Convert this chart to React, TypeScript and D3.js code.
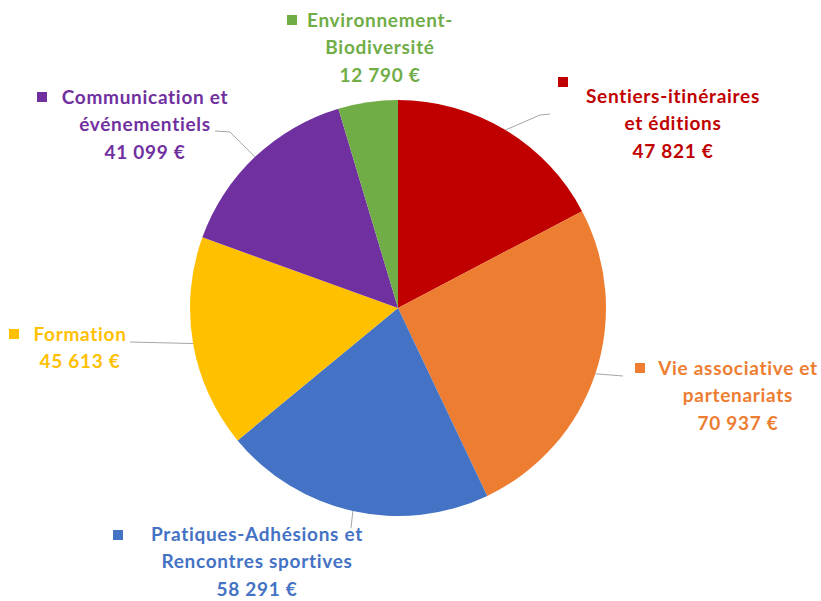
import { useEffect, useRef } from "react";
import * as d3 from "d3";

// budget lines, clockwise from 12 o'clock
const categories = [
  "Sentiers-itinéraires et éditions",
  "Vie associative et partenariats",
  "Pratiques-Adhésions et Rencontres sportives",
  "Formation",
  "Communication et événementiels",
  "Environnement-Biodiversité",
];
const amounts = [47821, 70937, 58291, 45613, 41099, 12790];
const colors = ["#C00000", "#ED7D31", "#4472C4", "#FFC000", "#7030A0", "#70AD47"];

// how each label is broken into lines (last line is the amount)
const labelLines = [
  ["Sentiers-itinéraires", "et éditions"],
  ["Vie associative et", "partenariats"],
  ["Pratiques-Adhésions et", "Rencontres sportives"],
  ["Formation"],
  ["Communication et", "événementiels"],
  ["Environnement-", "Biodiversité"],
];

const W = 821;
const H = 601;

// label placement: centre x of block, y of first line, marker pos, leader elbow pts
interface LabelLayout {
  cx: number;
  y: number;
  marker: [number, number];
  leader: [number, number][]; // points after the slice edge
}
const layouts: LabelLayout[] = [
  { cx: 673, y: 96, marker: [563, 82], leader: [[540, 115], [550, 114]] },
  { cx: 738, y: 368, marker: [640, 368], leader: [[623, 376]] },
  { cx: 257, y: 534, marker: [118, 535], leader: [[351, 528]] },
  { cx: 80, y: 334, marker: [14, 334], leader: [[130, 342]] },
  { cx: 145, y: 97, marker: [42, 97], leader: [[230, 132], [215, 131]] },
  { cx: 380, y: 20, marker: [292, 20], leader: [] },
];

const fmt = (v: number) => d3.format(",")(v).replace(/,/g, " ") + " €";

export default function App() {
  const svgRef = useRef<SVGSVGElement>(null);

  useEffect(() => {
    if (!svgRef.current) return;
    const svg = d3.select(svgRef.current);
    svg.selectAll("*").remove();

    const cx = 398;
    const cy = 308;
    const radius = 208;

    const data = categories.map((c, i) => ({ name: c, value: amounts[i], i }));
    const pie = d3.pie<typeof data[number]>().value(d => d.value).sort(null);
    const arcs = pie(data);
    const arc = d3.arc<d3.PieArcDatum<typeof data[number]>>().innerRadius(0).outerRadius(radius);

    const g = svg.append("g").attr("transform", `translate(${cx},${cy})`);

    g.selectAll("path.slice")
      .data(arcs)
      .join("path")
      .attr("class", "slice")
      .attr("d", arc)
      .attr("fill", d => colors[d.data.i]);

    // leader lines from slice edge (mid angle) to label
    const line = d3.line();
    for (const a of arcs) {
      const lay = layouts[a.data.i];
      if (!lay.leader.length) continue;
      const mid = (a.startAngle + a.endAngle) / 2;
      const edge: [number, number] = [cx + radius * Math.sin(mid), cy - radius * Math.cos(mid)];
      svg.append("path")
        .attr("d", line([edge, ...lay.leader]))
        .attr("fill", "none")
        .attr("stroke", "#A6A6A6")
        .attr("stroke-width", 1);
    }

    // labels
    const lineH = 27.5;
    for (let i = 0; i < categories.length; i++) {
      const lay = layouts[i];
      const color = colors[i];
      const lines = [...labelLines[i], fmt(amounts[i])];
      const t = svg.append("text")
        .attr("font-family", "Lato, 'Open Sans', sans-serif")
        .attr("font-weight", 700)
        .attr("font-size", 19)
        .attr("letter-spacing", 0.7)
        .attr("fill", color)
        .attr("text-anchor", "middle");
      lines.forEach((s, k) => {
        t.append("tspan")
          .attr("x", lay.cx)
          .attr("y", lay.y + k * lineH)
          .attr("dy", "0.35em")
          .text(s);
      });
      svg.append("rect")
        .attr("x", lay.marker[0] - 5)
        .attr("y", lay.marker[1] - 5)
        .attr("width", 10)
        .attr("height", 10)
        .attr("fill", color);
    }
  }, []);

  return (
    <div style={{ position: "absolute", left: 0, top: 0 }}>
      <svg ref={svgRef} width={W} height={H} style={{ display: "block", background: "#fff" }} />
    </div>
  );
}
